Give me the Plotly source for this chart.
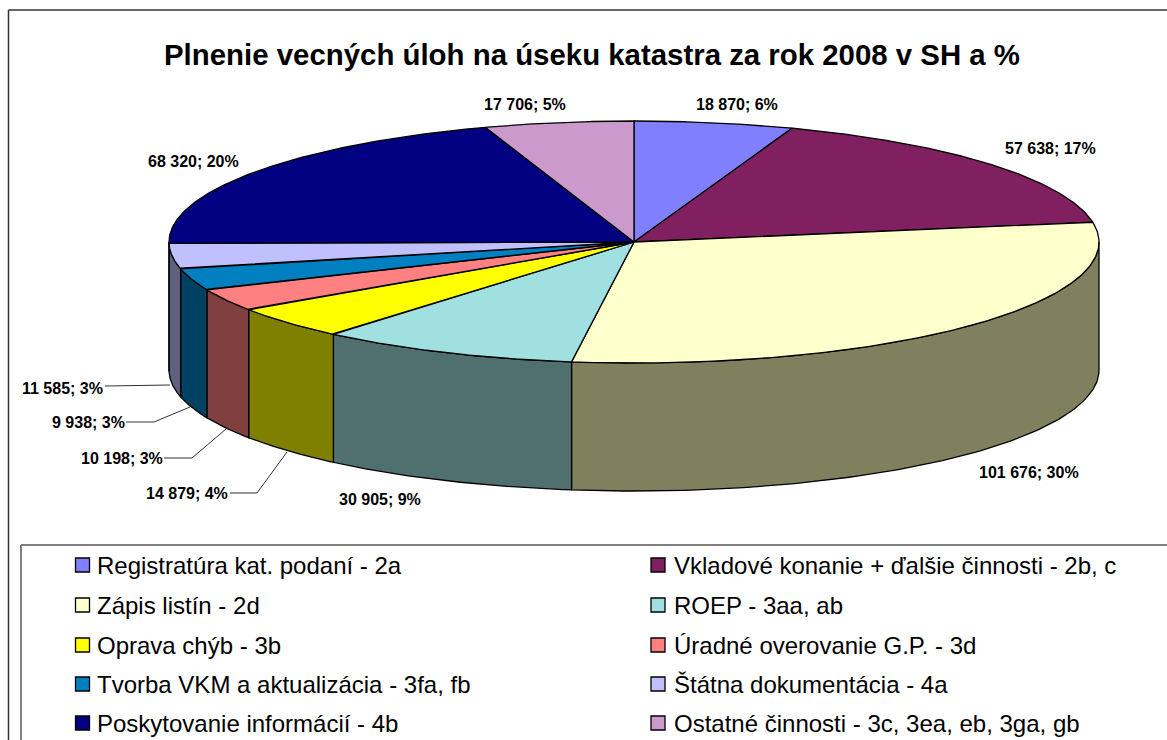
import numpy as np
import plotly.graph_objects as go

categories = ["Registratúra kat. podaní - 2a", "Vkladové konanie + ďalšie činnosti - 2b, c",
              "Zápis listín - 2d", "ROEP - 3aa, ab", "Oprava chýb - 3b", "Úradné overovanie G.P. - 3d",
              "Tvorba VKM a aktualizácia - 3fa, fb", "Štátna dokumentácia - 4a",
              "Poskytovanie informácií - 4b", "Ostatné činnosti - 3c, 3ea, eb, 3ga, gb"]
values = [18870, 57638, 101676, 30905, 14879, 10198, 9938, 11585, 68320, 17706]
top_colors = ["#8080FF", "#802060", "#FFFFCC", "#A0E0E0", "#FFFF00", "#FF8080", "#0080C0", "#C0C0FF", "#000080", "#CC99CC"]
side_colors = ["#404080", "#401030", "#80805F", "#507070", "#808000", "#804040", "#004060", "#606080", "#000040", "#664C66"]
title = "Plnenie vecných úloh na úseku katastra za rok 2008 v SH a %"

# layout in page pixels
CX, CY, RX, RY, DEPTH = 634, 242, 465, 121, 128
label_pos = [(737, 104), (1050, 148), (1029, 472), (380, 499), (187, 493),
             (122, 458), (88, 422), (62, 388), (193, 161), (525, 104)]
leaders = {4: [(230, 493), (257, 493), (287, 452)],
           5: [(164, 458), (192, 458), (226, 429)],
           6: [(126, 422), (154, 422), (190, 407)],
           7: [(105, 386), (170, 385)]}
legend_rows = [565, 605, 645, 684, 723]
legend_cols = [(82.5, 95), (658, 672)]

total = sum(values)
edges = np.concatenate([[0], np.cumsum(values)]) / total * 2 * np.pi


def ell(t, dy=0.0):
    return CX + RX * np.sin(t), CY - RY * np.cos(t) + dy


fig = go.Figure()
INK = "#000000"

# side wall: only the front half of the rim (t between 90 and 270 degrees)
for i in range(len(values)):
    a, b = max(edges[i], np.pi / 2), min(edges[i + 1], 3 * np.pi / 2)
    if b <= a:
        continue
    t = np.linspace(a, b, 120)
    x1, y1 = ell(t)
    x2, y2 = ell(t[::-1], DEPTH)
    fig.add_trace(go.Scatter(x=np.r_[x1, x2, x1[0]], y=np.r_[y1, y2, y1[0]], mode="lines", fill="toself",
                             fillcolor=side_colors[i], line=dict(color=INK, width=1.3),
                             hoverinfo="skip", showlegend=False))

# top face
for i in range(len(values)):
    t = np.linspace(edges[i], edges[i + 1], 160)
    x, y = ell(t)
    fig.add_trace(go.Scatter(x=np.r_[CX, x, CX], y=np.r_[CY, y, CY], mode="lines", fill="toself",
                             fillcolor=top_colors[i], line=dict(color=INK, width=1.3),
                             name=categories[i], hoverinfo="name", showlegend=False))

# leader lines
for pts in leaders.values():
    fig.add_trace(go.Scatter(x=[p[0] for p in pts], y=[p[1] for p in pts], mode="lines",
                             line=dict(color="#333333", width=1), hoverinfo="skip", showlegend=False))

ann = []
FONT = "Liberation Sans, Arial, sans-serif"
for i, v in enumerate(values):
    text = f"<b>{v:,}".replace(",", " ") + f"; {round(v / total * 100)}%</b>"
    ann.append(dict(x=label_pos[i][0], y=label_pos[i][1], text=text, showarrow=False,
                    font=dict(family=FONT, size=16, color="#000000"),
                    xanchor="center", yanchor="middle"))

# legend: rows of two columns
for i, name in enumerate(categories):
    row, col = i // 2, i % 2
    mx, tx = legend_cols[col]
    yy = legend_rows[row]
    fig.add_trace(go.Scatter(x=[mx], y=[yy], mode="markers",
                             marker=dict(symbol="square", size=14, color=top_colors[i],
                                         line=dict(color="#000000", width=1.3)),
                             hoverinfo="skip", showlegend=False))
    ann.append(dict(x=tx, y=yy, text=name, showarrow=False, xanchor="left", yanchor="middle",
                    font=dict(family=FONT, size=24, color="#000000")))

ann.append(dict(x=592, y=54, text=f"<b>{title}</b>", showarrow=False, xanchor="center", yanchor="middle",
                font=dict(family=FONT, size=29.4, color="#000000")))

shapes = [
    dict(type="line", x0=8.5, x1=1167, y0=10, y1=10, line=dict(color="#333333", width=1.5)),
    dict(type="line", x0=8.5, x1=8.5, y0=10, y1=740, line=dict(color="#333333", width=1.5)),
    dict(type="line", x0=21, x1=1167, y0=545, y1=545, line=dict(color="#808080", width=2)),
    dict(type="line", x0=21, x1=21, y0=545, y1=740, line=dict(color="#808080", width=2)),
]

fig.update_layout(width=1167, height=740, margin=dict(l=0, r=0, t=0, b=0),
                  paper_bgcolor="white", plot_bgcolor="white", annotations=ann, shapes=shapes,
                  xaxis=dict(range=[0, 1167], visible=False, fixedrange=True),
                  yaxis=dict(range=[740, 0], visible=False, fixedrange=True),
                  showlegend=False)
fig.write_html("out.html", config=dict(displayModeBar=False),
               post_script="document.body.style.margin='0';document.body.style.overflow='hidden';")
